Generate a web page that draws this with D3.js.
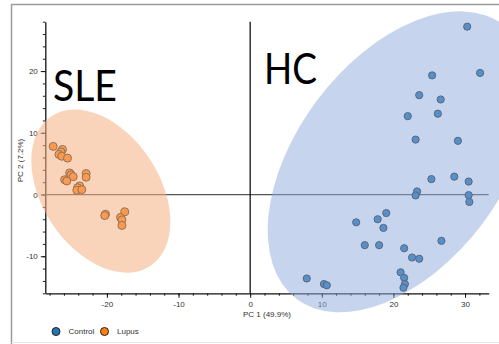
<!DOCTYPE html>
<html>
<head>
<meta charset="utf-8">
<script src="https://cdn.jsdelivr.net/npm/d3@7"></script>
<style>
  body { margin: 0; background: #fff; }
  svg { display: block; }
</style>
</head>
<body>
<script>
// PCA scores, healthy controls
const controlPC1 = [30.3, 32.1, 25.4, 23.6, 26.6, 26.2, 22.0, 23.1, 29.0,
                    25.3, 28.5, 30.5, 23.3, 23.1, 30.5, 30.6, 19.0, 14.8,
                    17.8, 18.6, 26.7, 16.0, 18.0, 21.5, 22.6, 23.6, 21.0,
                    21.5, 21.6, 21.4, 7.9, 10.3, 10.7];
const controlPC2 = [27.2, 19.7, 19.3, 16.1, 15.4, 13.1, 12.7, 8.9, 8.7,
                    2.5, 2.9, 2.1, 0.5, -0.15, -0.1, -1.2, -3.0, -4.5,
                    -4.0, -5.4, -7.5, -8.2, -8.2, -8.7, -10.2, -10.4, -12.6,
                    -13.5, -14.5, -15.1, -13.6, -14.5, -14.7];

// PCA scores, lupus patients
const lupusPC1 = [-27.5, -26.2, -26.4, -26.7, -26.3, -25.5, -25.2, -25.0,
                  -24.7, -25.9, -25.6, -22.9, -22.9, -23.8, -24.1, -24.2,
                  -23.5, -20.2, -20.3, -17.5, -18.1, -17.9, -17.9];
const lupusPC2 = [7.8, 7.3, 6.9, 6.5, 6.2, 5.9, 3.5, 3.2, 2.9, 2.4, 2.2,
                  3.4, 2.8, 1.4, 1.1, 0.7, 0.8, -3.2, -3.4, -2.8, -3.7,
                  -4.1, -5.0];

const groups = ["Control", "Lupus"];
const groupColors = ["#1f77b4", "#ff7f0e"];

const xTicks = [-20, -10, 0, 10, 20, 30];
const yTicks = [-10, 0, 10, 20];
const xMinorTicks = d3.range(-28, 34, 2);
const yMinorTicks = d3.range(-16, 29, 2);
const axisTitles = ["PC 1 (49.9%)", "PC 2 (7.2%)"];

// Cluster annotations: centre (PC units), semi-axes (PC1 units), tilt in degrees
const clusterNames = ["SLE", "HC"];
const clusterCentres = [[-20.85, 0.55], [20.9, 5.3]];
const clusterAxes = [[12.53, 8.18], [23.97, 14.4]];
const clusterTilt = [56.6, -53];
const clusterFills = ["#f4b183", "#8faadc"];

const W = 499, H = 344;
const svg = d3.select("body").append("svg").attr("width", W).attr("height", H);

// panel frame
svg.append("line").attr("x1", 11.5).attr("x2", W).attr("y1", 4.5).attr("y2", 4.5)
  .attr("stroke", "#9a9a9a").attr("stroke-width", 1.5);
svg.append("line").attr("x1", 11.5).attr("x2", 11.5).attr("y1", 4).attr("y2", H)
  .attr("stroke", "#9a9a9a").attr("stroke-width", 1.5);
svg.append("line").attr("x1", 11.5).attr("x2", W).attr("y1", 342.5).attr("y2", 342.5)
  .attr("stroke", "#e6e6e6").attr("stroke-width", 1);

const x = d3.scaleLinear().domain([-28.6, 33.3]).range([45.3, 488.7]);
const y = d3.scaleLinear().domain([-16, 28]).range([293.3, 21.7]);

const fontAxis = "'Liberation Sans', Arial, sans-serif";

// minor ticks
svg.append("g").attr("transform", `translate(0,${y(-16)})`)
  .call(d3.axisBottom(x).tickValues(xMinorTicks).tickSize(2.5).tickFormat(""))
  .call(g => g.select(".domain").remove())
  .call(g => g.selectAll("line").attr("stroke", "#222"));
svg.append("g").attr("transform", `translate(${x(-28.6)},0)`)
  .call(d3.axisLeft(y).tickValues(yMinorTicks).tickSize(2.5).tickFormat(""))
  .call(g => g.select(".domain").remove())
  .call(g => g.selectAll("line").attr("stroke", "#222"));

// major axes
const xAxis = svg.append("g").attr("transform", `translate(0,${y(-16)})`)
  .call(d3.axisBottom(x).tickValues(xTicks).tickSize(4.5).tickSizeOuter(0).tickPadding(4)
    .tickFormat(d3.format("d")));
const yAxis = svg.append("g").attr("transform", `translate(${x(-28.6)},0)`)
  .call(d3.axisLeft(y).tickValues(yTicks).tickSize(4.5).tickSizeOuter(0).tickPadding(3)
    .tickFormat(d3.format("d")));
[xAxis, yAxis].forEach(g => {
  g.select(".domain").attr("stroke", "#111").attr("stroke-width", 1.3);
  g.selectAll(".tick line").attr("stroke", "#111");
  g.selectAll(".tick text").attr("fill", "#333").attr("font-size", 8)
    .attr("font-family", fontAxis).text(d => d < 0 ? "-" + Math.abs(d) : d);
});

// zero reference lines
svg.append("line").attr("x1", x(-28.6)).attr("x2", x(33.3))
  .attr("y1", y(0)).attr("y2", y(0)).attr("stroke", "#555").attr("stroke-width", 1.2);
svg.append("line").attr("x1", x(0)).attr("x2", x(0))
  .attr("y1", y(28)).attr("y2", y(-16)).attr("stroke", "#000").attr("stroke-width", 1.2);

// axis titles
svg.append("text").attr("x", (x(-28.6) + x(33.3)) / 2).attr("y", 317)
  .attr("text-anchor", "middle").attr("font-size", 8).attr("fill", "#333")
  .attr("font-family", fontAxis).text(axisTitles[0]);
svg.append("text").attr("transform", `translate(23,${(y(28) + y(-16)) / 2 + 3}) rotate(-90)`)
  .attr("text-anchor", "middle").attr("font-size", 8).attr("fill", "#333")
  .attr("font-family", fontAxis).text(axisTitles[1]);

// points
const series = [
  { name: groups[0], xs: controlPC1, ys: controlPC2, color: groupColors[0] },
  { name: groups[1], xs: lupusPC1, ys: lupusPC2, color: groupColors[1] }
];
series.forEach((s, k) => {
  svg.append("g").selectAll("circle")
    .data(s.xs.map((v, i) => [v, s.ys[i]]))
    .join("circle")
    .attr("cx", d => x(d[0])).attr("cy", d => y(d[1]))
    .attr("r", k === 0 ? 3.6 : 4)
    .attr("fill", s.color).attr("stroke", "#222").attr("stroke-width", 1);
});

// translucent cluster ellipses laid over the scores
const unit = x(1) - x(0);
clusterNames.forEach((n, i) => {
  const [cx, cy] = clusterCentres[i];
  svg.append("ellipse")
    .attr("transform", `translate(${x(cx)},${y(cy)}) rotate(${clusterTilt[i]})`)
    .attr("rx", clusterAxes[i][0] * unit).attr("ry", clusterAxes[i][1] * unit)
    .attr("fill", clusterFills[i]).attr("fill-opacity", i === 0 ? 0.55 : 0.5);
});

// cluster names
const nameFont = "Lato, 'Open Sans', sans-serif";
svg.append("text").attr("x", 53).attr("y", 101).attr("font-size", 42)
  .attr("font-family", nameFont).attr("fill", "#000")
  .attr("textLength", 64).attr("lengthAdjust", "spacingAndGlyphs").text(clusterNames[0]);
svg.append("text").attr("x", 264).attr("y", 83.5).attr("font-size", 42)
  .attr("font-family", nameFont).attr("fill", "#000")
  .attr("textLength", 53).attr("lengthAdjust", "spacingAndGlyphs").text(clusterNames[1]);

// legend
const legend = svg.append("g").attr("font-family", fontAxis).attr("font-size", 8);
const legendX = [56, 104.5];
groups.forEach((g, i) => {
  legend.append("circle").attr("cx", legendX[i]).attr("cy", 331.5).attr("r", 4)
    .attr("fill", groupColors[i]).attr("stroke", "#222").attr("stroke-width", 1);
  legend.append("text").attr("x", legendX[i] + 12.5).attr("y", 334.3)
    .attr("fill", "#333").text(g);
});
</script>
</body>
</html>
